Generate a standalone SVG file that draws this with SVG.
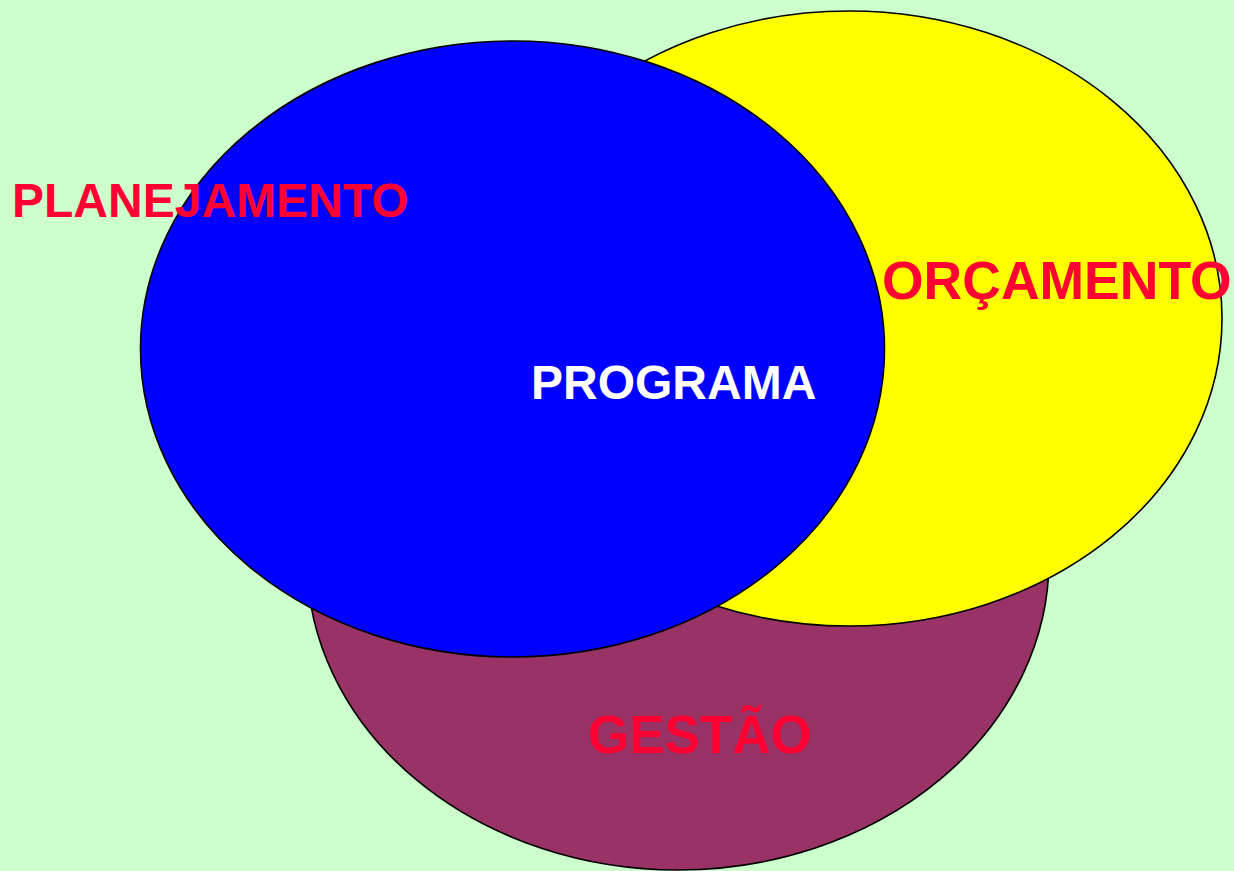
<svg xmlns="http://www.w3.org/2000/svg" width="1234" height="871" viewBox="0 0 1234 871">
<style>
.c{stroke:#000;stroke-width:1.6}
.t{font-family:"Liberation Sans",Arial,sans-serif;font-weight:bold}
.r{fill:#FF0033}
.w{fill:#FFFFFF}
</style>
<rect width="1234" height="871" fill="#CCFFCC"/>
<g id="gestao"><ellipse class="c" cx="678" cy="560" rx="371" ry="310" fill="#993366"/></g>
<g id="orcamento"><ellipse class="c" cx="849" cy="318.5" rx="373" ry="307.5" fill="#FFFF00"/></g>
<g id="planejamento"><ellipse class="c" cx="512.5" cy="349" rx="372" ry="308" fill="#0000FF"/></g>
<g id="labels">
<text class="t r" x="12" y="217" font-size="48">PLANEJAMENTO</text>
<text class="t r" x="882" y="299" font-size="53.5">ORÇAMENTO</text>
<text class="t w" x="531" y="399" font-size="48">PROGRAMA</text>
<text class="t r" x="588" y="753" font-size="53">GESTÃO</text>
</g>
</svg>
